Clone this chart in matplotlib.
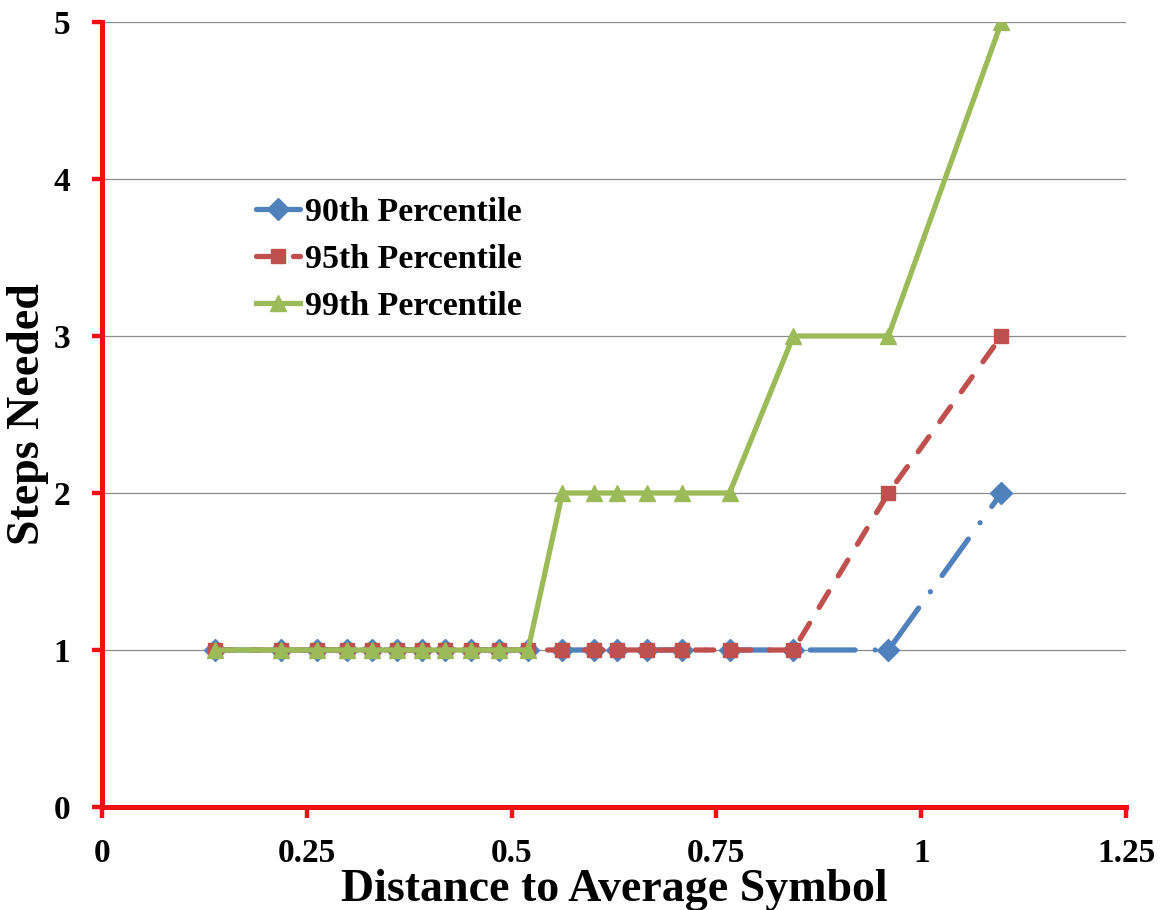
import matplotlib
matplotlib.use("Agg")
import matplotlib.pyplot as plt
from matplotlib.ticker import FixedLocator

# distances (shared by all three series)
distance = [0.138, 0.219, 0.263, 0.299, 0.330, 0.360, 0.390, 0.419, 0.450,
            0.484, 0.520, 0.562, 0.600, 0.629, 0.665, 0.708, 0.766, 0.844,
            0.960, 1.098]
p90 = [1, 1, 1, 1, 1, 1, 1, 1, 1, 1, 1, 1, 1, 1, 1, 1, 1, 1, 1, 2]
p95 = [1, 1, 1, 1, 1, 1, 1, 1, 1, 1, 1, 1, 1, 1, 1, 1, 1, 1, 2, 3]
p99 = [1, 1, 1, 1, 1, 1, 1, 1, 1, 1, 1, 2, 2, 2, 2, 2, 2, 3, 3, 5]
labels = ["90th Percentile", "95th Percentile", "99th Percentile"]
x_ticks = [0, 0.25, 0.5, 0.75, 1, 1.25]
x_tick_labels = ["0", "0.25", "0.5", "0.75", "1", "1.25"]
y_ticks = [0, 1, 2, 3, 4, 5]

BLUE, RED, GREEN = "#4F81BD", "#C0504D", "#9BBB59"
AXIS_RED = "#EE1111"

plt.rcParams["font.family"] = ["Liberation Serif", "DejaVu Serif"]
plt.rcParams["font.weight"] = "bold"

fig = plt.figure(figsize=(11.7, 9.1), dpi=100)
ax = fig.add_axes([0.0872, 0.1132, 0.8752, 0.8626])

ax.plot(distance, p90, color=BLUE, lw=3.8, ls=(0, (8.5, 3.8, 0.01, 3.8)),
        dash_capstyle="round", marker="D", ms=11, label=labels[0], zorder=3)
ax.plot(distance, p95, color=RED, lw=3.8, ls=(0, (3.5, 3.5)),
        dash_capstyle="round", marker="s", ms=10.5, label=labels[1], zorder=4)
ax.plot(distance, p99, color=GREEN, lw=3.8, ls="-",
        marker="^", ms=12, label=labels[2], zorder=5)

ax.set_xlim(0, 1.25)
ax.set_ylim(0, 5)
ax.xaxis.set_major_locator(FixedLocator(x_ticks))
ax.set_xticklabels(x_tick_labels)
ax.yaxis.set_major_locator(FixedLocator(y_ticks))
ax.grid(axis="y", color="#8C8C8C", lw=0.9)
ax.set_axisbelow(True)

for side in ("top", "right"):
    ax.spines[side].set_visible(False)
for side in ("left", "bottom"):
    ax.spines[side].set_color(AXIS_RED)
    ax.spines[side].set_linewidth(3.6)
ax.tick_params(axis="both", colors=AXIS_RED, width=3.2, length=8,
               direction="out", labelcolor="black", labelsize=24)
ax.tick_params(axis="x", pad=14)
ax.tick_params(axis="y", length=7, pad=16)

ax.set_xlabel("Distance to Average Symbol", fontsize=33, fontweight="bold")
ax.xaxis.set_label_coords(0.5, -0.079)
ax.set_ylabel("Steps Needed", fontsize=33, fontweight="bold")
ax.yaxis.set_label_coords(-0.052, 0.5)

ax.legend(loc="upper left", bbox_to_anchor=(0.137, 0.795), frameon=False,
          fontsize=24.5, handlelength=1.3, handletextpad=0.15,
          labelspacing=0.48, borderaxespad=0, numpoints=1)

fig.savefig("out.png", dpi=100)
